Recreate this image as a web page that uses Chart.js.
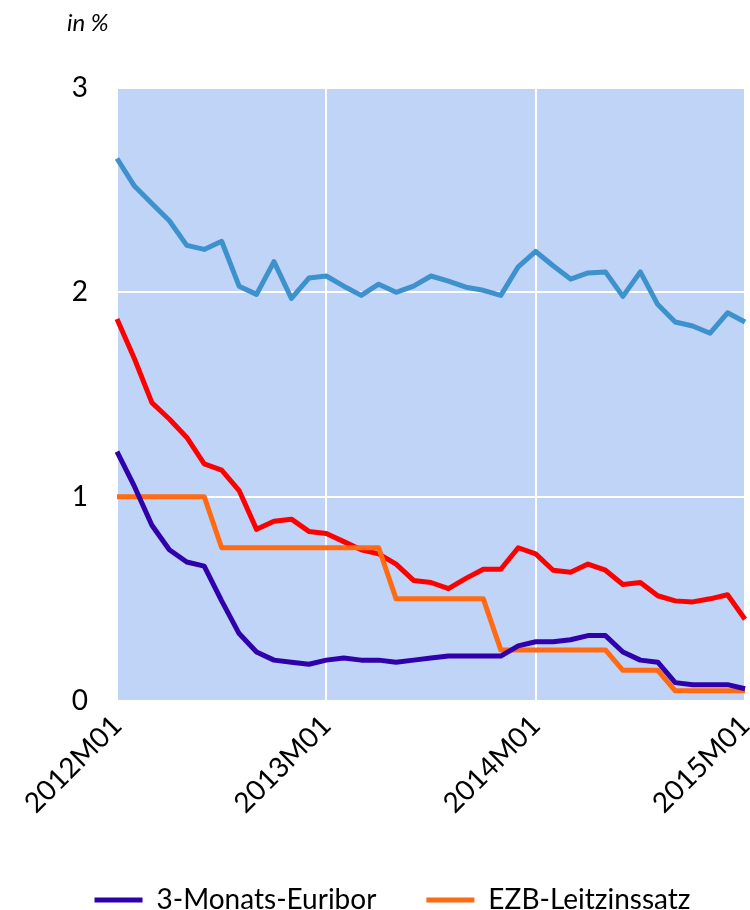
<!DOCTYPE html>
<html>
<head>
<meta charset="utf-8">
<script src="https://cdn.jsdelivr.net/npm/chart.js@4.4.1/dist/chart.umd.min.js"></script>
<style>
  body { margin: 0; background: #fff; }
  #wrap { width: 750px; height: 910px; }
</style>
</head>
<body>
<div id="wrap"><canvas id="grafico" width="750" height="910"></canvas></div>
<script>
// monthly labels 2012M01 .. 2015M01
const meses = [
  "2012M01","2012M02","2012M03","2012M04","2012M05","2012M06","2012M07","2012M08","2012M09","2012M10","2012M11","2012M12",
  "2013M01","2013M02","2013M03","2013M04","2013M05","2013M06","2013M07","2013M08","2013M09","2013M10","2013M11","2013M12",
  "2014M01","2014M02","2014M03","2014M04","2014M05","2014M06","2014M07","2014M08","2014M09","2014M10","2014M11","2014M12",
  "2015M01"
]
const euribor = [1.22,1.05,0.86,0.74,0.68,0.66,0.49,0.33,0.24,0.20,0.19,0.18,0.20,0.21,0.20,0.20,0.19,0.20,0.21,0.22,0.22,0.22,0.22,0.27,0.29,0.29,0.30,0.32,0.32,0.24,0.20,0.19,0.09,0.08,0.08,0.08,0.06]
const leitzins = [1,1,1,1,1,1,0.75,0.75,0.75,0.75,0.75,0.75,0.75,0.75,0.75,0.75,0.5,0.5,0.5,0.5,0.5,0.5,0.25,0.25,0.25,0.25,0.25,0.25,0.25,0.15,0.15,0.15,0.05,0.05,0.05,0.05,0.05]
const kredite = [1.87,1.675,1.46,1.38,1.29,1.16,1.13,1.03,0.84,0.88,0.89,0.83,0.82,0.78,0.74,0.72,0.67,0.59,0.58,0.55,0.60,0.645,0.645,0.75,0.72,0.64,0.63,0.67,0.64,0.57,0.58,0.515,0.49,0.485,0.50,0.52,0.40]
const rendite = [2.655,2.52,2.435,2.35,2.23,2.21,2.25,2.03,1.99,2.15,1.97,2.07,2.08,2.03,1.985,2.04,2.00,2.03,2.08,2.055,2.025,2.01,1.985,2.125,2.20,2.13,2.065,2.095,2.10,1.98,2.10,1.94,1.855,1.835,1.80,1.90,1.855]
const yTicks = [0, 1, 2, 3]

const fuente = "Lato, 'DejaVu Sans', sans-serif"

// plot background + unit label
const fondo = {
  id: 'fondo',
  afterLayout(chart) {
    // legend sits a bit right of centre in the original
    if (chart.legend) chart.legend.left += 40
  },
  beforeDraw(chart) {
    const { ctx, chartArea } = chart
    ctx.save()
    ctx.fillStyle = '#c0d4f8'
    ctx.fillRect(chartArea.left, chartArea.top, chartArea.right - chartArea.left, chartArea.bottom - chartArea.top)
    ctx.restore()
  },
  afterDraw(chart) {
    const ctx = chart.ctx
    ctx.save()
    ctx.font = 'italic 24px ' + fuente
    ctx.fillStyle = '#000'
    ctx.textBaseline = 'middle'
    ctx.fillText('in %', 67, 23)
    ctx.restore()
  }
}

function linea(label, data, color) {
  return {
    label: label,
    data: data,
    borderColor: color,
    backgroundColor: color,
    borderWidth: 5,
    pointRadius: 0,
    tension: 0,
    borderJoinStyle: 'round'
  }
}

const datasets = [
  linea('3-Monats-Euribor', euribor, '#3000aa'),
  linea('EZB-Leitzinssatz', leitzins, '#ff6a13'),
  linea('Kreditzinssatz', kredite, '#ff0000'),
  linea('Rendite Staatsanleihen', rendite, '#3d91cc')
]

const chart = new Chart(document.getElementById('grafico'), {
  type: 'line',
  data: { labels: meses, datasets },
  plugins: [fondo],
  options: {
    responsive: false,
    animation: false,
    layout: { padding: { top: 88, right: 5, left: 0, bottom: -14 } },
    plugins: {
      tooltip: { enabled: false },
      legend: {
        position: 'bottom',
        labels: {
          color: '#000',
          font: { family: fuente, size: 28 },
          boxWidth: 48,
          boxHeight: 5,
          padding: 50,
          filter: (item) => item.datasetIndex < 2,
          generateLabels(chart) {
            return Chart.defaults.plugins.legend.labels.generateLabels(chart).map(l => {
              l.lineWidth = 0
              return l
            })
          }
        }
      }
    },
    scales: {
      x: {
        offset: false,
        afterFit(s) {
          s.height = 135
          s.paddingRight = 0
          s.paddingLeft = 0
        },
        border: { display: false },
        grid: { color: '#ffffff', lineWidth: 2, drawTicks: false },
        ticks: {
          autoSkip: false,
          maxRotation: 45,
          minRotation: 45,
          padding: 8,
          color: '#000',
          font: { family: fuente, size: 28 },
          callback(val) {
            const l = this.getLabelForValue(val)
            return l.endsWith('M01') ? l : null
          }
        }
      },
      y: {
        min: 0,
        max: 3,
        afterFit(s) { s.width = 117 },
        afterBuildTicks(s) { s.ticks = yTicks.map(v => ({ value: v })) },
        border: { display: false },
        grid: { color: '#ffffff', lineWidth: 2, drawTicks: false },
        ticks: {
          padding: 29,
          color: '#000',
          font: { family: fuente, size: 28 }
        }
      }
    }
  }
})
</script>
</body>
</html>
